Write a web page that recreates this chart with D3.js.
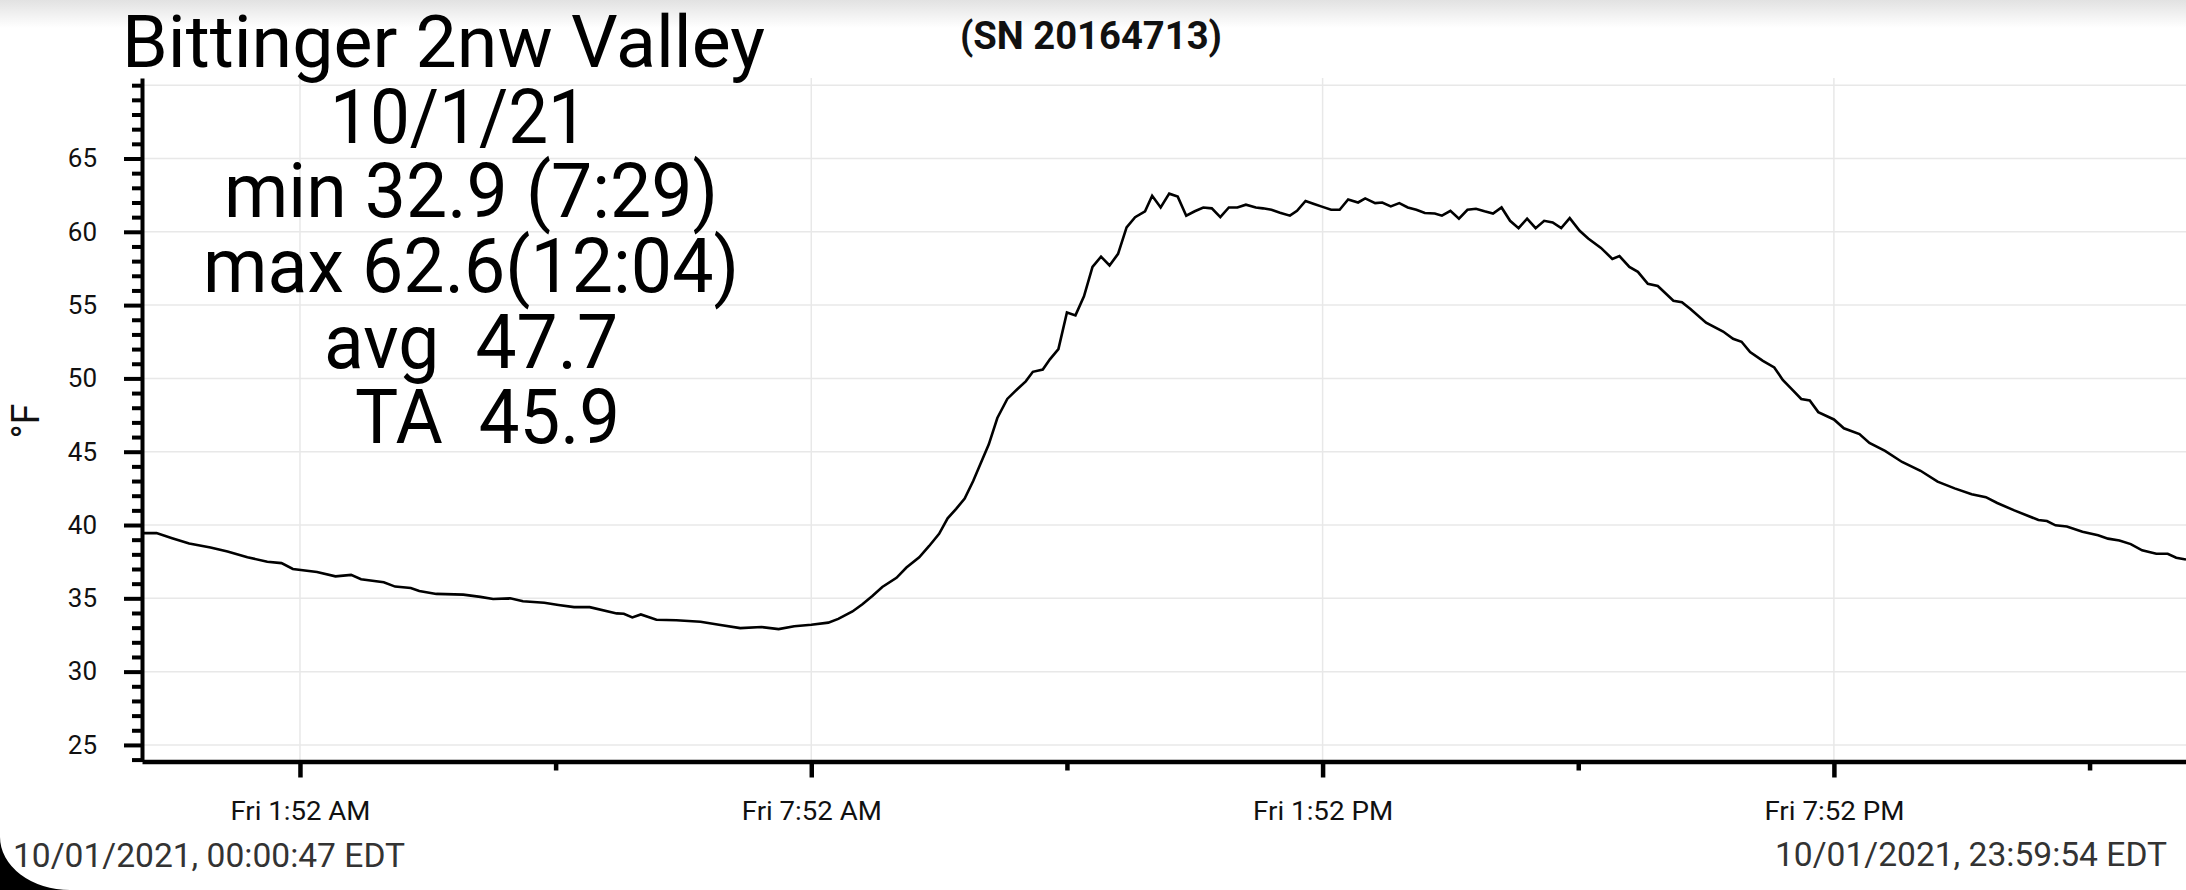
<!DOCTYPE html>
<html>
<head>
<meta charset="utf-8">
<script src="https://cdn.jsdelivr.net/npm/d3@7"></script>
<style>
  html, body { margin: 0; padding: 0; background: #fff; }
  svg { display: block; font-family: Roboto, "Noto Sans", sans-serif; }
  text { white-space: pre; }
</style>
</head>
<body>
<svg id="chart" width="2186" height="890"></svg>
<script>
// ---------------- data ----------------
const titleText = "Bittinger 2nw Valley";
const serialText = "(SN 20164713)";
const statLines = ["10/1/21", "min 32.9 (7:29)", "max 62.6(12:04)", "avg  47.7", "TA  45.9"];
const startLabel = "10/01/2021, 00:00:47 EDT";
const endLabel = "10/01/2021, 23:59:54 EDT";
const yAxisLabel = "°F";

const domainStart = "00:00:47";
const domainEnd = "23:59:54";

const times = [
  "00:00:47","00:11","00:22","00:34","00:49","01:01","01:15","01:29","01:39","01:47",
  "02:04","02:17","02:28","02:35","02:51","02:59","03:10","03:16","03:28","03:47",
  "03:59","04:08","04:20","04:29","04:44","04:54","05:05","05:16","05:35","05:40",
  "05:46","05:52","06:03","06:17","06:34","06:47","07:02","07:17","07:29","07:40",
  "07:52","08:04","08:11","08:21","08:28","08:35","08:42","08:52","08:59","09:08",
  "09:15","09:22","09:28","09:34","09:40","09:46","09:51","09:57","10:03","10:10",
  "10:17","10:23","10:28","10:35","10:40","10:46","10:52","10:58","11:04","11:10",
  "11:16","11:22","11:28","11:34","11:40","11:47","11:52","11:58","12:04","12:10",
  "12:16","12:22","12:28","12:34","12:40","12:46","12:52","12:58","13:05","13:10",
  "13:16","13:22","13:29","13:34","13:40","13:46","13:52","13:58","14:04","14:10",
  "14:17","14:22","14:29","14:34","14:40","14:46","14:52","14:58","15:04","15:11",
  "15:16","15:22","15:28","15:34","15:40","15:46","15:52","15:58","16:04","16:10",
  "16:16","16:22","16:28","16:34","16:40","16:46","16:53","16:59","17:08","17:16",
  "17:21","17:28","17:34","17:41","17:48","17:59","18:05","18:11","18:22","18:34",
  "18:41","18:47","18:53","19:02","19:10","19:16","19:23","19:29","19:35","19:41",
  "19:52","19:59","20:10","20:17","20:28","20:40","20:53","21:05","21:17","21:29",
  "21:39","21:47","21:59","22:16","22:22","22:28","22:36","22:47","22:58","23:05",
  "23:13","23:21","23:29","23:39","23:47","23:53","23:59:54"
];
const temps = [
  39.45,39.45,39.1,38.74,38.47,38.2,37.8,37.5,37.4,37.0,
  36.8,36.5,36.6,36.3,36.1,35.8,35.7,35.5,35.3,35.25,
  35.1,34.95,35.0,34.8,34.7,34.55,34.4,34.4,33.97,33.95,
  33.7,33.9,33.54,33.5,33.4,33.2,32.97,33.04,32.9,33.1,
  33.2,33.34,33.6,34.1,34.6,35.16,35.77,36.4,37.1,37.8,
  38.57,39.4,40.46,41.1,41.8,43.0,44.15,45.5,47.3,48.6,
  49.26,49.8,50.45,50.6,51.3,52.0,54.5,54.3,55.6,57.6,
  58.3,57.7,58.5,60.3,61.0,61.4,62.46,61.66,62.6,62.4,
  61.1,61.4,61.66,61.6,61.0,61.66,61.66,61.85,61.66,61.6,
  61.5,61.3,61.1,61.43,62.1,61.9,61.7,61.5,61.5,62.2,
  62.0,62.28,61.96,62.0,61.73,61.96,61.66,61.5,61.28,61.25,
  61.1,61.43,60.9,61.5,61.57,61.4,61.25,61.66,60.75,60.25,
  60.9,60.25,60.75,60.64,60.25,60.93,60.07,59.54,58.9,58.15,
  58.34,57.6,57.27,56.45,56.3,55.3,55.2,54.74,53.8,53.2,
  52.7,52.5,51.8,51.2,50.75,49.9,49.2,48.6,48.5,47.7,
  47.2,46.6,46.2,45.6,45.06,44.3,43.7,42.96,42.5,42.1,
  41.9,41.5,41.0,40.34,40.27,39.98,39.9,39.54,39.3,39.07,
  38.95,38.7,38.27,38.04,38.04,37.77,37.65
];

const yMajorTicks = [25, 30, 35, 40, 45, 50, 55, 60, 65];
const yGridTicks = [25, 30, 35, 40, 45, 50, 55, 60, 65, 70];
const yMinorStep = 1;
const yDomain = [23.87, 70.49];

const xLabelTicks = ["01:52", "07:52", "13:52", "19:52"];
const xTickLabels = ["Fri 1:52 AM", "Fri 7:52 AM", "Fri 1:52 PM", "Fri 7:52 PM"];
const xMinorTicks = ["04:52", "10:52", "16:52", "22:52"];

// ---------------- helpers ----------------
function parseT(s) {
  const p = s.split(":").map(Number);
  return new Date(Date.UTC(2021, 9, 1, p[0], p[1], p[2] || 0));
}
const series = times.map((t, i) => ({ t: parseT(t), v: temps[i] }));

// ---------------- layout ----------------
const svg = d3.select("#chart");
const W = 2186, H = 890;
const plot = { left: 142, right: 2186, top: 78, bottom: 761.5 };

const x = d3.scaleUtc().domain([parseT(domainStart), parseT(domainEnd)]).range([plot.left, plot.right]);
const y = d3.scaleLinear().domain(yDomain).range([plot.bottom, plot.top]);

// background + top shadow
const defs = svg.append("defs");
const grad = defs.append("linearGradient").attr("id", "topShade").attr("x1", 0).attr("y1", 0).attr("x2", 0).attr("y2", 1);
grad.append("stop").attr("offset", "0%").attr("stop-color", "#e2e2e2");
grad.append("stop").attr("offset", "100%").attr("stop-color", "#ffffff");
svg.append("rect").attr("width", W).attr("height", H).attr("fill", "#ffffff");
svg.append("rect").attr("width", W).attr("height", 28).attr("fill", "url(#topShade)");

// grid
const grid = svg.append("g").attr("stroke", "#e8e8e8").attr("stroke-width", 1.5);
grid.selectAll(".hg").data(yGridTicks).join("line")
  .attr("x1", plot.left).attr("x2", plot.right)
  .attr("y1", d => y(d)).attr("y2", d => y(d));
grid.selectAll(".vg").data(xLabelTicks).join("line")
  .attr("x1", d => x(parseT(d))).attr("x2", d => x(parseT(d)))
  .attr("y1", plot.top).attr("y2", plot.bottom);

// line
const line = d3.line().x(d => x(d.t)).y(d => y(d.v));
svg.append("path").datum(series)
  .attr("fill", "none").attr("stroke", "#000").attr("stroke-width", 2.6)
  .attr("stroke-linejoin", "miter").attr("d", line);

// y axis minor ticks
const yMinor = d3.range(Math.ceil(yDomain[0]), Math.floor(yDomain[1]) + 1, yMinorStep)
  .filter(v => !yMajorTicks.includes(v));
svg.append("g").attr("transform", `translate(${plot.left},0)`)
  .call(d3.axisLeft(y).tickValues(yMinor).tickSize(10).tickSizeOuter(0).tickFormat(""))
  .call(g => g.select(".domain").remove())
  .call(g => g.selectAll(".tick line").attr("stroke", "#000").attr("stroke-width", 4));

// y axis major
const yAxisG = svg.append("g").attr("transform", `translate(${plot.left},0)`)
  .call(d3.axisLeft(y).tickValues(yMajorTicks).tickSize(18).tickSizeOuter(0).tickFormat(d3.format("d")));
yAxisG.select(".domain").attr("stroke", "#000").attr("stroke-width", 4);
yAxisG.selectAll(".tick line").attr("stroke", "#000").attr("stroke-width", 4);
yAxisG.selectAll(".tick text").attr("fill", "#111").attr("font-size", 26)
  .attr("font-family", "Roboto").attr("x", -45);

// x axis minor ticks
svg.append("g").attr("transform", `translate(0,${plot.bottom})`)
  .call(d3.axisBottom(x).tickValues(xMinorTicks.map(parseT)).tickSize(9).tickSizeOuter(0).tickFormat(""))
  .call(g => g.select(".domain").remove())
  .call(g => g.selectAll(".tick line").attr("stroke", "#000").attr("stroke-width", 4.5));

// x axis major
const xAxisG = svg.append("g").attr("transform", `translate(0,${plot.bottom})`)
  .call(d3.axisBottom(x).tickValues(xLabelTicks.map(parseT)).tickSize(16).tickSizeOuter(0)
    .tickFormat((d, i) => xTickLabels[i]));
xAxisG.select(".domain").attr("stroke", "#000").attr("stroke-width", 4.5);
xAxisG.selectAll(".tick line").attr("stroke", "#000").attr("stroke-width", 4.5);
xAxisG.selectAll(".tick text").attr("fill", "#111").attr("font-size", 26)
  .attr("font-family", "Roboto").attr("y", 58).attr("dy", 0)
  .attr("textLength", 140).attr("lengthAdjust", "spacingAndGlyphs");

// y axis label
svg.append("text").attr("transform", "translate(39,421) rotate(-90)")
  .attr("text-anchor", "middle").attr("font-size", 38).attr("fill", "#111").text(yAxisLabel);

// title
svg.append("text").attr("x", 122).attr("y", 67).attr("font-size", 72).attr("fill", "#000")
  .attr("textLength", 643).attr("lengthAdjust", "spacingAndGlyphs").text(titleText);
svg.append("text").attr("x", 960).attr("y", 49).attr("font-size", 39).attr("font-weight", "bold").attr("fill", "#111")
  .attr("textLength", 262).attr("lengthAdjust", "spacingAndGlyphs").text(serialText);

// stats block
const statPos = [
  { x: 330, y: 143, w: 258 },
  { x: 224, y: 217, w: 494 },
  { x: 203, y: 292, w: 536 },
  { x: 324, y: 368, w: 294 },
  { x: 355, y: 443, w: 265 }
];
svg.append("g").selectAll("text").data(statLines).join("text")
  .attr("x", (d, i) => statPos[i].x).attr("y", (d, i) => statPos[i].y)
  .attr("font-size", 76).attr("fill", "#000")
  .attr("textLength", (d, i) => statPos[i].w).attr("lengthAdjust", "spacingAndGlyphs")
  .text(d => d);

// bottom date labels
svg.append("text").attr("x", 13).attr("y", 867).attr("font-size", 34).attr("fill", "#333")
  .attr("textLength", 392).attr("lengthAdjust", "spacingAndGlyphs").text(startLabel);
svg.append("text").attr("x", 1775).attr("y", 866).attr("font-size", 34).attr("fill", "#333")
  .attr("textLength", 392).attr("lengthAdjust", "spacingAndGlyphs").text(endLabel);

// rounded screen corner
svg.append("path").attr("d", "M0,837 A70,53 0 0,0 70,890 L0,890 Z").attr("fill", "#000");
</script>
</body>
</html>
